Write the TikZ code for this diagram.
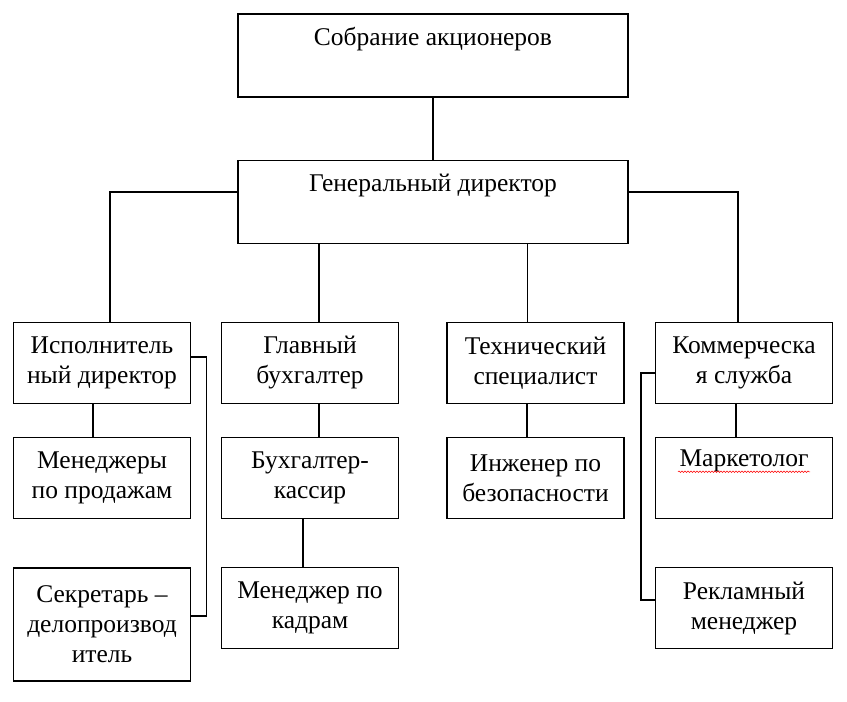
\documentclass[tikz,border=0pt]{standalone}
\usepackage{fontspec}
\setmainfont{Liberation Serif}
\usetikzlibrary{calc,decorations.pathmorphing}
\tikzset{
	unit/.style={draw, line width=1.5pt, align=center, inner sep=0pt, minimum width=177, minimum height=81, font=\fontsize{25.5}{30}\selectfont},
	bigunit/.style={unit, minimum width=390, minimum height=83},
	link/.style={line width=1.5pt}
}

\begin{document}
\begin{tikzpicture}[x=1pt, y=-1pt]
			%%%%% START %%%%%
			\useasboundingbox (0,0) rectangle (847,702);
			
			\node[bigunit] (sobr) at (433,55.5) {Собрание акционеров\\ \strut};
			\node[bigunit] (gen) at (433,202) {Генеральный директор\\ \strut};
			
			\node[unit] (isp) at (102,363) {Исполнитель\\ный директор};
			\node[unit] (glav) at (310,363) {Главный\\бухгалтер};
			\node[unit] (tech) at (535.5,363) {Технический\\специалист};
			\node[unit] (komm) at (744,363) {Коммерческа\\я служба};
			
			\node[unit] (menpr) at (102,478) {Менеджеры\\по продажам};
			\node[unit] (buhk) at (310,478) {Бухгалтер-\\кассир};
			\node[unit] (inzh) at (535.5,478) {Инженер по\\безопасности};
			\node[unit] (mark) at (744,478) {Маркетолог\\ \strut};
			
			\node[unit, minimum height=113] (sekr) at (102,624.5) {Секретарь –\\делопроизвод\\итель};
			\node[unit] (kadr) at (310,608) {Менеджер по\\кадрам};
			\node[unit] (rekl) at (744,608) {Рекламный\\менеджер};
			
			\draw[red, line width=0.5pt, decorate, decoration={snake, amplitude=0.8pt, segment length=3pt}] ($(mark.north)+(-66,35)$) -- ++(132,0);
			
			\draw[link] (sobr) -- (gen);
			
			\draw[link] ($(gen.west)+(0,-10)$) -| ($(isp.north)+(8,0)$);
			\draw[link] ($(gen.east)+(0,-10)$) -| ($(komm.north)+(-6,0)$);
			
			\coordinate (glavin) at ($(glav.north)+(9,0)$);
			\coordinate (techin) at ($(tech.north)+(-8,0)$);
			\draw[link] (glavin) -- (glavin |- gen.south);
			\draw[link] (techin) -- (techin |- gen.south);
			
			\coordinate (ispout) at ($(isp.south)+(-9,0)$);
			\coordinate (glavout) at ($(glav.south)+(9,0)$);
			\coordinate (buhkout) at ($(buhk.south)+(-7,0)$);
			\coordinate (techout) at ($(tech.south)+(-8.5,0)$);
			\coordinate (kommout) at ($(komm.south)+(-8,0)$);
			\draw[link] (ispout) -- (ispout |- menpr.north);
			\draw[link] (glavout) -- (glavout |- buhk.north);
			\draw[link] (buhkout) -- (buhkout |- kadr.north);
			\draw[link] (techout) -- (techout |- inzh.north);
			\draw[link] (kommout) -- (kommout |- mark.north);
			
			\draw[link] ($(isp.east)+(0,-6)$) -- ++(15,0) |- ($(sekr.east)+(0,-8.5)$);
			\draw[link] ($(komm.west)+(0,10)$) -- ++(-14,0) |- ($(rekl.west)+(0,-8)$);
			
			%%%%% END %%%%%
\end{tikzpicture}
\end{document}
